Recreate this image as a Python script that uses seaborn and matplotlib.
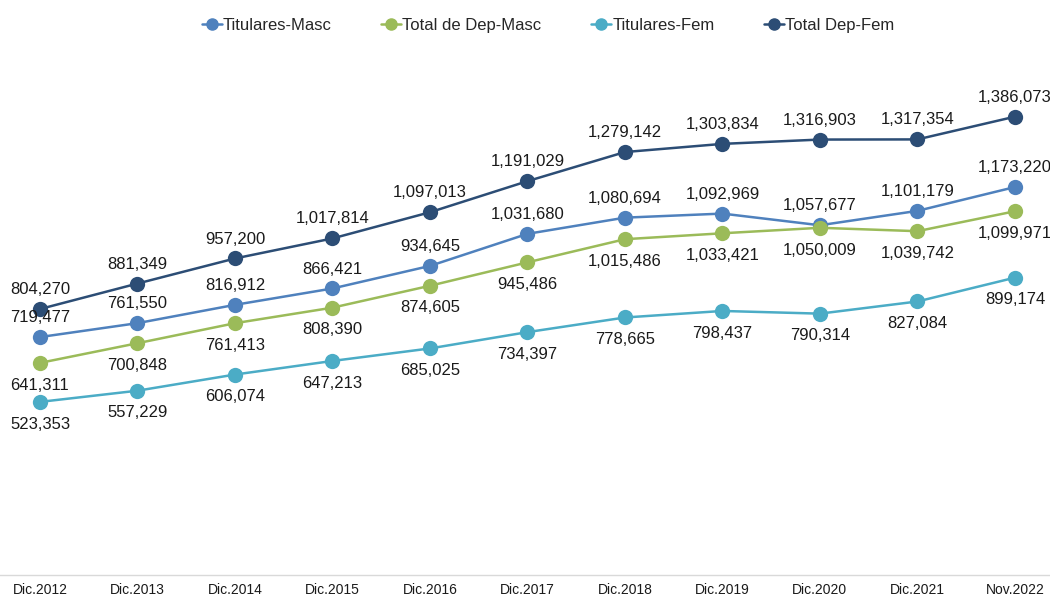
import seaborn as sns
import pandas as pd
import matplotlib.pyplot as plt

periods = ['Dic.2012', 'Dic.2013', 'Dic.2014', 'Dic.2015', 'Dic.2016', 'Dic.2017',
           'Dic.2018', 'Dic.2019', 'Dic.2020', 'Dic.2021', 'Nov.2022']
titulares_masc = [719477, 761550, 816912, 866421, 934645, 1031680, 1080694, 1092969, 1057677, 1101179, 1173220]
total_dep_masc = [641311, 700848, 761413, 808390, 874605, 945486, 1015486, 1033421, 1050009, 1039742, 1099971]
titulares_fem = [523353, 557229, 606074, 647213, 685025, 734397, 778665, 798437, 790314, 827084, 899174]
total_dep_fem = [804270, 881349, 957200, 1017814, 1097013, 1191029, 1279142, 1303834, 1316903, 1317354, 1386073]

series = ['Titulares-Masc', 'Total de Dep-Masc', 'Titulares-Fem', 'Total Dep-Fem']
colors = ['#4F81BD', '#9BBB59', '#4BACC6', '#2C4D75']
label_above = [True, False, False, True]

df = pd.DataFrame({
    'pos': list(range(len(periods))) * 4,
    'value': titulares_masc + total_dep_masc + titulares_fem + total_dep_fem,
    'serie': [s for s in series for _ in periods],
})

sns.set_style('white')
plt.rcParams['font.family'] = ['Liberation Sans', 'DejaVu Sans']

fig = plt.figure(figsize=(10.5, 5.97), dpi=100)
ax = fig.add_axes([0, 0.037, 1, 0.886])

sns.lineplot(data=df, x='pos', y='value', hue='serie', hue_order=series, palette=colors,
             marker='o', markersize=11, markeredgewidth=0, linewidth=1.8, ax=ax, legend=False)

# data labels: above or below each series
for s, c, above in zip(series, colors, label_above):
    sub = df[df.serie == s]
    for x, v in zip(sub.pos, sub.value):
        ax.annotate(f'{v:,}', (x, v), xytext=(0, 14 if above else -16), textcoords='offset points',
                    ha='center', va='center', fontsize=12, color='#1a1a1a')

ax.set_xlim(-0.41, 10.36)
ax.set_ylim(0, 1600000)
ax.set_xticks(range(len(periods)))
ax.set_xticklabels(periods, fontsize=10, color='#1a1a1a')
ax.set_yticks([])
ax.set_xlabel('')
ax.set_ylabel('')
ax.tick_params(axis='x', length=0, pad=6)
for side in ['top', 'right', 'left']:
    ax.spines[side].set_visible(False)
ax.spines['bottom'].set_color('#d9d9d9')
ax.spines['bottom'].set_linewidth(1)

handles = [plt.Line2D([], [], color=c, marker='o', markersize=8, linewidth=1.8) for c in colors]
fig.legend(handles, series, loc='center', bbox_to_anchor=(0.522, 0.957), ncol=4, frameon=False,
           fontsize=12, handlelength=1.2, handletextpad=0.05, columnspacing=3.0)

fig.savefig('out.png', dpi=100)
